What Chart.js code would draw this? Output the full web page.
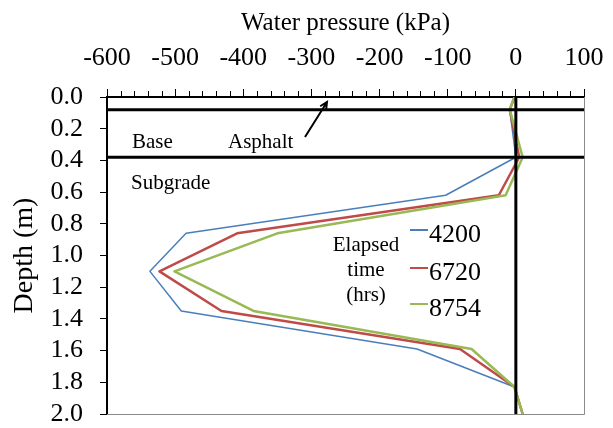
<!DOCTYPE html>
<html>
<head>
<meta charset="utf-8">
<script src="https://cdn.jsdelivr.net/npm/chart.js@4.4.1/dist/chart.umd.min.js"></script>
<style>
  html, body { margin: 0; padding: 0; background: #fff; }
  canvas { display: block; }
</style>
</head>
<body>
<canvas id="pressureChart" width="613" height="428"></canvas>
<script>
// sensor depths (m) and pore water pressure (kPa) at each elapsed time
const depths = [0, 0.08, 0.38, 0.62, 0.86, 1.10, 1.35, 1.59, 1.83, 2.0];
const elapsedHours = ['4200', '6720', '8754'];
const pressure4200 = [-2, -9, 0, -103, -484, -537, -491, -145, -2, 10];
const pressure6720 = [-2, -9, 5, -25, -409, -523, -432, -82, -2, 10];
const pressure8754 = [-2, -9, 10, -15, -350, -501, -385, -65, -2, 10];

// layer interfaces (asphalt/base, base/subgrade) and the zero-pressure line
const layerBoundaries = [0.08, 0.38];
const zeroLine = [0, 2];

const pressureTicks = [-600, -500, -400, -300, -200, -100, 0, 100];
const depthTicks = [0, 0.2, 0.4, 0.6, 0.8, 1.0, 1.2, 1.4, 1.6, 1.8, 2.0];

const seriesColors = ['#4a7ebb', '#be4b48', '#98b954'];
const seriesWidths = [1.5, 2.5, 2.5];
const serif = '"Liberation Serif", "Times New Roman", serif';

const toPoints = (xs) => xs.map((v, i) => ({ x: v, y: depths[i] }));

const profiles = [pressure4200, pressure6720, pressure8754].map((vals, i) => ({
  label: elapsedHours[i],
  data: toPoints(vals),
  showLine: true,
  borderColor: seriesColors[i],
  borderWidth: seriesWidths[i],
  borderJoinStyle: 'round',
  pointRadius: 0,
  order: 3 - i
}));

const blackLine = (data) => ({
  data,
  showLine: true,
  borderColor: '#000',
  borderWidth: 3,
  pointRadius: 0,
  order: 0
});

const boundaryLines = layerBoundaries.map(d =>
  blackLine([{ x: pressureTicks[0], y: d }, { x: pressureTicks[pressureTicks.length - 1], y: d }]));
const zeroPressure = blackLine(zeroLine.map(d => ({ x: 0, y: d })));

// minor ticks, frame, layer names, arrow and the legend box
const extras = {
  id: 'extras',
  afterDraw(chart) {
    const { ctx, chartArea: a, scales: { x } } = chart;
    ctx.save();

    ctx.strokeStyle = '#8a8a8a';
    ctx.lineWidth = 1;
    ctx.beginPath();
    ctx.moveTo(a.right + 0.5, a.top);
    ctx.lineTo(a.right + 0.5, a.bottom + 0.5);
    ctx.lineTo(a.left, a.bottom + 0.5);
    ctx.stroke();

    ctx.strokeStyle = '#000';
    ctx.beginPath();
    for (let v = -600; v <= 100; v += 20) {
      if (v % 100 === 0) continue;
      const px = Math.round(x.getPixelForValue(v)) + 0.5;
      ctx.moveTo(px, a.top);
      ctx.lineTo(px, a.top - 6);
    }
    ctx.stroke();

    ctx.fillStyle = '#000';
    ctx.font = `21px ${serif}`;
    ctx.textAlign = 'left';
    ctx.textBaseline = 'alphabetic';
    ctx.fillText('Base', 132, 148);
    ctx.fillText('Asphalt', 228, 148);
    ctx.fillText('Subgrade', 131, 189);

    // arrow pointing at the asphalt layer
    const x0 = 305, y0 = 137, x1 = 327, y1 = 102;
    const ang = Math.atan2(y1 - y0, x1 - x0);
    ctx.lineWidth = 2;
    ctx.beginPath();
    ctx.moveTo(x0, y0);
    ctx.lineTo(x1, y1);
    ctx.moveTo(x1 - 8 * Math.cos(ang - 0.45), y1 - 8 * Math.sin(ang - 0.45));
    ctx.lineTo(x1, y1);
    ctx.lineTo(x1 - 8 * Math.cos(ang + 0.45), y1 - 8 * Math.sin(ang + 0.45));
    ctx.stroke();

    ctx.textAlign = 'center';
    ctx.fillText('Elapsed', 366, 251);
    ctx.fillText('time', 366, 276);
    ctx.fillText('(hrs)', 366, 301);

    const rows = [230, 268, 304];
    ctx.font = `26px ${serif}`;
    ctx.textAlign = 'left';
    chart.data.datasets.slice(0, 3).forEach((ds, i) => {
      ctx.strokeStyle = ds.borderColor;
      ctx.lineWidth = 2;
      ctx.beginPath();
      ctx.moveTo(410, rows[i]);
      ctx.lineTo(428, rows[i]);
      ctx.stroke();
      ctx.fillText(ds.label, 429, rows[i] + 12);
    });

    ctx.restore();
  }
};

new Chart(document.getElementById('pressureChart'), {
  type: 'scatter',
  data: { datasets: [...profiles, ...boundaryLines, zeroPressure] },
  options: {
    responsive: false,
    animation: false,
    devicePixelRatio: 1,
    layout: { padding: { left: 0, top: 0, right: 29, bottom: 14 } },
    plugins: { legend: { display: false }, tooltip: { enabled: false } },
    scales: {
      x: {
        type: 'linear',
        position: 'top',
        min: -600,
        max: 100,
        afterBuildTicks(s) { s.ticks = pressureTicks.map(v => ({ value: v })); },
        afterFit(s) {
          s.height = 97;
          s.paddingLeft = 0;
          s.paddingRight = 0;
        },
        ticks: {
          color: '#000',
          font: { family: serif, size: 26, lineHeight: 1 },
          padding: 18,
          maxRotation: 0,
          autoSkip: false,
          callback: v => String(v)
        },
        grid: { drawOnChartArea: false, tickLength: 8, tickColor: '#000' },
        border: { color: '#000', width: 2 },
        title: {
          display: true,
          text: 'Water pressure (kPa)',
          color: '#000',
          font: { family: serif, size: 25, lineHeight: 1.2 },
          padding: { top: 8, bottom: 0 }
        }
      },
      y: {
        type: 'linear',
        reverse: true,
        min: 0,
        max: 2,
        afterBuildTicks(s) { s.ticks = depthTicks.map(v => ({ value: v })); },
        afterFit(s) {
          s.width = 107;
          s.paddingTop = 0;
          s.paddingBottom = 0;
        },
        ticks: {
          color: '#000',
          font: { family: serif, size: 26, lineHeight: 1 },
          padding: 17,
          autoSkip: false,
          callback: v => v.toFixed(1)
        },
        grid: { drawOnChartArea: false, tickLength: 7, tickColor: '#000' },
        border: { color: '#000', width: 2 },
        title: {
          display: true,
          text: 'Depth (m)',
          color: '#000',
          font: { family: serif, size: 28, lineHeight: 1.2 },
          padding: { top: 8, bottom: 0 }
        }
      }
    }
  },
  plugins: [extras]
});
</script>
</body>
</html>
